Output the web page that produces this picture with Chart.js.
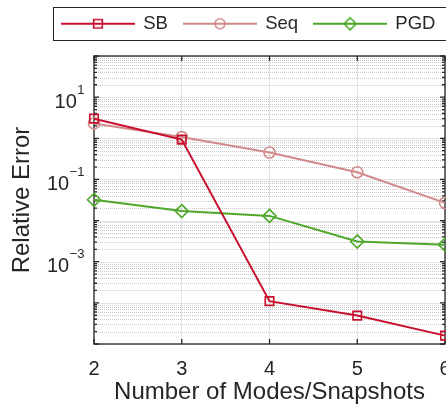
<!DOCTYPE html>
<html>
<head>
<meta charset="utf-8">
<script src="https://cdn.jsdelivr.net/npm/chart.js@4/dist/chart.umd.min.js"></script>
<style>
  html, body { margin: 0; padding: 0; background: #fff; overflow: hidden; }
  #wrap { width: 446px; height: 406px; position: relative; }
</style>
</head>
<body>
<div id="wrap"><canvas id="chart"></canvas></div>
<script>
// data
const modes  = ['2', '3', '4', '5', '6'];
const sbErr  = [3.0, 0.93, 1.1e-4, 4.9e-5, 1.6e-5];
const seqErr = [2.3, 1.07, 0.45, 0.15, 0.027];
const pgdErr = [0.032, 0.017, 0.013, 0.0031, 0.0026];
const yLabelExps = [1, -1, -3];
const yMin = 1e-5, yMax = 1e2;

const ink = '#262626';
const fam = '"Liberation Sans", Arial, sans-serif';
const sbColor = '#c8102e', seqColor = '#d18a8a', pgdColor = '#4ea72a';

const isDecade = v => Math.abs(Math.log10(v) - Math.round(Math.log10(v))) < 1e-9;

// legend icon: line with open marker in the middle
function legendIcon(color, shape, r) {
  const c = document.createElement('canvas');
  c.width = 74; c.height = 16;
  const g = c.getContext('2d');
  g.strokeStyle = color;
  g.lineWidth = 2;
  g.beginPath(); g.moveTo(0, 8); g.lineTo(74, 8); g.stroke();
  g.lineWidth = 1.6;
  g.beginPath();
  if (shape === 'rect') g.rect(37 - r * 0.72, 8 - r * 0.72, r * 1.44, r * 1.44);
  else if (shape === 'circle') g.arc(37, 8, r, 0, Math.PI * 2);
  else { g.moveTo(37, 8 - r); g.lineTo(37 + r, 8); g.lineTo(37, 8 + r); g.lineTo(37 - r, 8); g.closePath(); }
  g.stroke();
  return c;
}
const icons = [legendIcon(sbColor, 'rect', 6), legendIcon(seqColor, 'circle', 5), legendIcon(pgdColor, 'diamond', 6)];

const frame = {
  id: 'frame',
  afterLayout(chart) {
    const lg = chart.legend;
    lg.left += 46; lg.right += 46;
    lg.top -= 13; lg.bottom -= 13;
  },
  beforeDatasetsDraw(chart) {
    const {ctx, chartArea: a, scales: {x, y}} = chart;
    ctx.save();
    // y grid: solid at decades, dotted between
    y.ticks.forEach(t => {
      const py = Math.round(y.getPixelForValue(t.value)) + 0.5;
      ctx.beginPath();
      if (isDecade(t.value)) { ctx.setLineDash([]); ctx.strokeStyle = '#e3e3e3'; }
      else { ctx.setLineDash([1, 1]); ctx.strokeStyle = '#c8c8c8'; }
      ctx.lineWidth = 1;
      ctx.moveTo(a.left, py); ctx.lineTo(a.right, py);
      ctx.stroke();
    });
    ctx.setLineDash([]);
    // box
    ctx.strokeStyle = ink; ctx.lineWidth = 1.3;
    ctx.strokeRect(a.left, a.top, a.right - a.left, a.bottom - a.top);
    // inward tick marks
    ctx.beginPath();
    y.ticks.forEach(t => {
      const py = y.getPixelForValue(t.value);
      const len = isDecade(t.value) ? 5 : 3;
      ctx.moveTo(a.left, py); ctx.lineTo(a.left + len, py);
      ctx.moveTo(a.right, py); ctx.lineTo(a.right - len, py);
    });
    x.ticks.forEach((t, i) => {
      const px = x.getPixelForTick(i);
      ctx.moveTo(px, a.bottom); ctx.lineTo(px, a.bottom - 5);
      ctx.moveTo(px, a.top); ctx.lineTo(px, a.top + 5);
    });
    ctx.stroke();
    // y tick labels 10^n
    ctx.fillStyle = ink;
    ctx.textBaseline = 'alphabetic';
    ctx.textAlign = 'left';
    yLabelExps.forEach(e => {
      const py = y.getPixelForValue(Math.pow(10, e));
      const sup = e < 0 ? '\u2212' + Math.abs(e) : String(e);
      ctx.font = '20px ' + fam;
      const bw = ctx.measureText('10').width;
      ctx.font = '13px ' + fam;
      const ew = ctx.measureText(sup).width;
      const x0 = a.left - 10 - ew - bw;
      ctx.font = '20px ' + fam;
      ctx.fillText('10', x0, py + 10.5);
      ctx.font = '13px ' + fam;
      ctx.fillText(sup, x0 + bw + 0.5, py - 3.5);
    });
    ctx.restore();
  },
  afterDraw(chart) {
    const hb = chart.legend.legendHitBoxes;
    if (!hb || !hb.length) return;
    const first = hb[0], last = hb[hb.length - 1];
    const ctx = chart.ctx;
    ctx.save();
    ctx.strokeStyle = ink; ctx.lineWidth = 1;
    const l = Math.round(first.left - 9) + 0.5;
    const r = Math.round(last.left + last.width + 12) + 0.5;
    const t = Math.round(first.top - 7.5) + 0.5;
    const b = Math.round(first.top + first.height + 7) + 0.5;
    ctx.strokeRect(l, t, r - l, b - t);
    ctx.restore();
  }
};

new Chart(document.getElementById('chart'), {
  type: 'line',
  data: {
    labels: modes,
    datasets: [
      { label: 'SB', data: sbErr, borderColor: sbColor, pointStyle: 'rect', pointRadius: 6 },
      { label: 'Seq', data: seqErr, borderColor: seqColor, pointStyle: 'circle', pointRadius: 5.5 },
      { label: 'PGD', data: pgdErr, borderColor: pgdColor, pointStyle: 'rectRot', pointRadius: 6.5 }
    ].map(d => Object.assign(d, {
      borderWidth: 2,
      pointBorderColor: d.borderColor,
      pointBackgroundColor: 'rgba(0,0,0,0)',
      pointBorderWidth: 1.6,
      tension: 0,
      clip: false
    }))
  },
  options: {
    responsive: true,
    maintainAspectRatio: false,
    animation: false,
    events: [],
    layout: { autoPadding: false, padding: { top: 11.5, left: 0, right: 1, bottom: 0 } },
    plugins: {
      tooltip: { enabled: false },
      legend: {
        position: 'top',
        align: 'start',
        labels: {
          color: ink,
          font: { family: fam, size: 18.5 },
          padding: 16,
          usePointStyle: true,
          pointStyleWidth: 72,
          generateLabels: chart => chart.data.datasets.map((d, i) => ({
            text: d.label,
            datasetIndex: i,
            pointStyle: icons[i],
            lineWidth: 0,
            fontColor: ink
          }))
        }
      }
    },
    scales: {
      x: {
        type: 'category',
        offset: false,
        grid: { color: '#e3e3e3', lineWidth: 1, drawTicks: false },
        border: { display: false },
        ticks: { color: ink, font: { family: fam, size: 20 }, padding: 13, autoSkip: false, maxRotation: 0 },
        title: {
          display: true,
          text: 'Number of Modes/Snapshots',
          color: ink,
          font: { family: fam, size: 24 },
          padding: { top: 0, bottom: -1 }
        },
        afterFit(scale) { scale.height = 62; scale.paddingRight = 0; }
      },
      y: {
        type: 'logarithmic',
        min: yMin,
        max: yMax,
        grid: { display: false },
        border: { display: false },
        ticks: { display: false, autoSkip: false },
        title: {
          display: true,
          text: 'Relative Error',
          color: ink,
          font: { family: fam, size: 24 },
          padding: { top: 8, bottom: 0 }
        },
        afterBuildTicks(scale) {
          const ticks = [];
          const e0 = Math.round(Math.log10(yMin)), e1 = Math.round(Math.log10(yMax));
          for (let e = e0; e < e1; e++) {
            for (let m = 1; m < 10; m++) ticks.push({ value: m * Math.pow(10, e) });
          }
          ticks.push({ value: yMax });
          scale.ticks = ticks;
        },
        afterFit(scale) { scale.width = 94; }
      }
    }
  },
  plugins: [frame]
});
</script>
</body>
</html>
